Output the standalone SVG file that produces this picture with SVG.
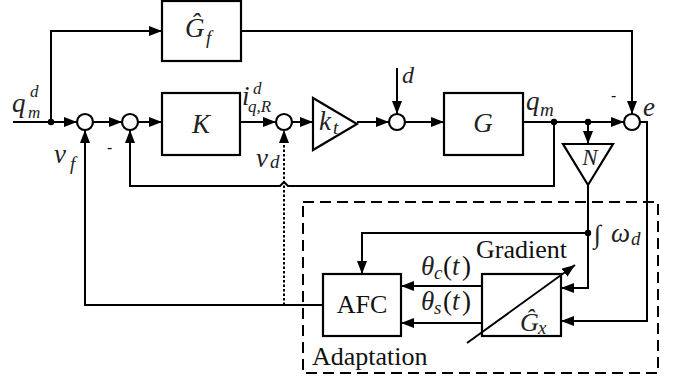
<svg xmlns="http://www.w3.org/2000/svg" width="678" height="380" viewBox="0 0 678 380">
<defs>
<marker id="ah" markerUnits="userSpaceOnUse" markerWidth="14" markerHeight="10" refX="13" refY="5" orient="auto">
<path d="M0,0 L13,5 L0,10 Z" fill="#000"/>
</marker>
<style>
.ln{fill:none;stroke:#000;stroke-width:2}
.bx{fill:#fff;stroke:#000;stroke-width:2.2}
.dt{fill:none;stroke:#000;stroke-width:2;stroke-dasharray:2.5 2}
.ds{fill:none;stroke:#000;stroke-width:2;stroke-dasharray:11 6}
.m{font-family:"Liberation Serif",serif;font-style:italic;fill:#222}
.r{font-family:"Liberation Serif",serif;fill:#111}
.s{font-family:"Liberation Sans",sans-serif;fill:#111}
</style>
</defs>
<rect width="678" height="380" fill="#fff"/>

<g id="adaptation">
<rect class="ds" x="303" y="202" width="355" height="171"/>
<text class="r" x="312" y="365" font-size="26">Adaptation</text>
</g>

<g id="connectors">
<path class="ln" d="M13,122 H77" marker-end="url(#ah)"/>
<path class="ln" d="M51,122 V31 H162" marker-end="url(#ah)"/>
<path class="ln" d="M241,31 H632 V114" marker-end="url(#ah)"/>
<path class="ln" d="M93,122 H122" marker-end="url(#ah)"/>
<path class="ln" d="M138,122 H162" marker-end="url(#ah)"/>
<path class="ln" d="M240,122 H276" marker-end="url(#ah)"/>
<path class="ln" d="M292,122 H313" marker-end="url(#ah)"/>
<path class="ln" d="M357,122 H389" marker-end="url(#ah)"/>
<path class="ln" d="M397,68 V114" marker-end="url(#ah)"/>
<path class="ln" d="M405,122 H444" marker-end="url(#ah)"/>
<path class="ln" d="M523,122 H624" marker-end="url(#ah)"/>
<path class="ln" d="M588,122 V144" marker-end="url(#ah)"/>
<path class="ln" d="M554,122 V186 H288 L284,182 L280,186 H130 V130" marker-end="url(#ah)"/>
<path class="dt" d="M284,305 V130" marker-end="url(#ah)"/>
<path class="ln" d="M323,305 H85 V130" marker-end="url(#ah)"/>
<path class="ln" d="M640,122 H647 V321 H561" marker-end="url(#ah)"/>
<path class="ln" d="M588,185 V288 H561" marker-end="url(#ah)"/>
<path class="ln" d="M588,233 H362 V274" marker-end="url(#ah)"/>
<path class="ln" d="M482,286 H401" marker-end="url(#ah)"/>
<path class="ln" d="M482,323 H401" marker-end="url(#ah)"/>
<circle cx="51" cy="122" r="3.2" fill="#000"/>
<circle cx="554" cy="122" r="3.2" fill="#000"/>
<circle cx="588" cy="122" r="3.2" fill="#000"/>
<circle cx="588" cy="233" r="3.2" fill="#000"/>
</g>

<g id="sum1"><circle class="bx" cx="85" cy="122" r="8"/></g>
<g id="sum2"><circle class="bx" cx="130" cy="122" r="8"/></g>
<g id="sum3"><circle class="bx" cx="284" cy="122" r="8"/></g>
<g id="sum4"><circle class="bx" cx="397" cy="122" r="8"/></g>
<g id="sum5"><circle class="bx" cx="632" cy="122" r="8"/></g>

<g id="Gf">
<rect class="bx" x="162" y="1" width="79" height="60"/>
<text class="m" x="185" y="37" font-size="27">Ĝ</text>
<text class="m" x="206" y="44" font-size="19">f</text>
</g>
<g id="K">
<rect class="bx" x="162" y="93" width="78" height="62"/>
<text class="m" x="201" y="133" font-size="27" text-anchor="middle">K</text>
</g>
<g id="kt">
<path class="bx" d="M313,98 L357,124 L313,150 Z"/>
<text class="m" x="319" y="130" font-size="27">k</text>
<text class="m" x="333" y="134" font-size="19">t</text>
</g>
<g id="G">
<rect class="bx" x="444" y="93" width="79" height="62"/>
<text class="m" x="483" y="132" font-size="27" text-anchor="middle">G</text>
</g>
<g id="N">
<path class="bx" d="M563,144 L613,144 L588,185 Z"/>
<text class="m" x="590" y="165" font-size="23" text-anchor="middle">N</text>
</g>
<g id="AFC">
<rect class="bx" x="323" y="274" width="78" height="62"/>
<text class="r" x="362" y="313" font-size="26" text-anchor="middle">AFC</text>
</g>
<g id="Gx">
<rect class="bx" x="482" y="274" width="79" height="62"/>
<path class="ln" d="M467,343 L575,265" marker-end="url(#ah)"/>
<text class="m" x="520" y="331" font-size="26">Ĝ</text>
<text class="m" x="538" y="334" font-size="19">x</text>
<text class="r" x="476" y="258" font-size="26">Gradient</text>
</g>

<g id="labels">
<text class="m" x="12" y="112" font-size="27">q</text>
<text class="m" x="30" y="97" font-size="17">d</text>
<text class="m" x="28" y="118" font-size="17">m</text>
<text class="m" x="54" y="163" font-size="27">v</text>
<text class="m" x="70" y="170" font-size="19">f</text>
<text class="s" x="107" y="153" font-size="16">-</text>
<text class="m" x="242" y="105" font-size="27">i</text>
<text class="m" x="253" y="94" font-size="17">d</text>
<text class="m" x="248" y="112" font-size="17">q,R</text>
<text class="m" x="256" y="167" font-size="27">v</text>
<text class="m" x="270" y="168" font-size="19">d</text>
<text class="m" x="402" y="83" font-size="24">d</text>
<text class="m" x="526" y="110" font-size="27">q</text>
<text class="m" x="540" y="116" font-size="19">m</text>
<text class="s" x="611" y="101" font-size="16">-</text>
<text class="m" x="643" y="116" font-size="27">e</text>
<text class="m" x="594" y="243" font-size="26">∫</text>
<text class="m" x="611" y="242" font-size="27">ω</text>
<text class="m" x="631" y="245" font-size="19">d</text>
<text class="m" x="421" y="275" font-size="27">θ</text>
<text class="m" x="434" y="279" font-size="19">c</text>
<text class="r" x="443" y="275" font-size="27">(</text>
<text class="m" x="452" y="275" font-size="27">t</text>
<text class="r" x="462" y="275" font-size="27">)</text>
<text class="m" x="421" y="310" font-size="27">θ</text>
<text class="m" x="434" y="314" font-size="19">s</text>
<text class="r" x="443" y="310" font-size="27">(</text>
<text class="m" x="452" y="310" font-size="27">t</text>
<text class="r" x="462" y="310" font-size="27">)</text>
</g>
</svg>
